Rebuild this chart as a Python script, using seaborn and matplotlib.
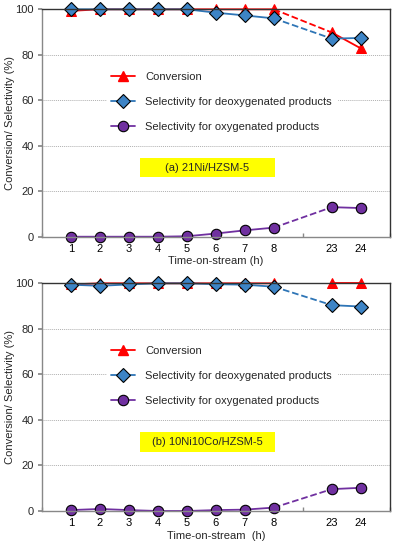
import numpy as np
import matplotlib
matplotlib.use("Agg")
import matplotlib.pyplot as plt
import seaborn as sns
from matplotlib.lines import Line2D
from matplotlib.patches import Rectangle

# time labels (h) and their positions on the category axis (gap between 8 and 23)
hours = ["1", "2", "3", "4", "5", "6", "7", "8", "23", "24"]
pos = [1, 2, 3, 4, 5, 6, 7, 8, 10, 11]

# panel (a) 21Ni/HZSM-5
conv_a = [99.3, 100, 100, 100, 100, 100, 100, 100, 89.8, 82.8]
deox_a = [100, 100, 100, 100, 100, 98.5, 97.3, 96.0, 87.1, 87.4]
oxy_a = [0, 0, 0, 0, 0.2, 1.4, 2.8, 4.0, 13.0, 12.6]

# panel (b) 10Ni10Co/HZSM-5
conv_b = [99.5, 100, 100, 100, 100, 100, 100, 100, 100, 100]
deox_b = [99.4, 98.9, 99.5, 100, 100, 99.6, 99.4, 98.5, 90.4, 89.8]
oxy_b = [0.4, 0.9, 0.4, 0, 0, 0.4, 0.6, 1.5, 9.6, 10.2]

sns.set_theme(style="white")
plt.rcParams['font.family'] = ['Liberation Sans', 'DejaVu Sans']

RED = "#ff0000"
BLUE_LINE = "#2e75b6"
BLUE_FILL = "#3d84c6"
PURPLE = "#7030a0"

styles = [
    ("Conversion", RED, dict(marker="^", markersize=7.5, markerfacecolor=RED, markeredgecolor=RED)),
    ("Selectivity for deoxygenated products", BLUE_LINE,
     dict(marker="D", markersize=7, markerfacecolor=BLUE_FILL, markeredgecolor="black", markeredgewidth=0.8)),
    ("Selectivity for oxygenated products", PURPLE,
     dict(marker="o", markersize=7.5, markerfacecolor=PURPLE, markeredgecolor="black", markeredgewidth=0.8)),
]


def draw_panel(ax, series, tag, xlabel):
    for (label, color, mk), vals in zip(styles, series):
        # solid part 1-8 h and 23-24 h, dashed bridge 8 -> 23 h
        sns.lineplot(x=pos[8:], y=vals[8:], ax=ax, color=color, lw=1.3, clip_on=False, **mk)
        sns.lineplot(x=pos[7:9], y=vals[7:9], ax=ax, color=color, lw=1.3, dashes=(4, 2.5),
                     linestyle="--", zorder=1)
        sns.lineplot(x=pos[:8], y=vals[:8], ax=ax, color=color, lw=1.3, clip_on=False, **mk)

    ax.set_xlim(0, 12)
    ax.set_ylim(0, 100)
    ax.set_yticks([0, 20, 40, 60, 80, 100])
    ax.set_xticks(pos)
    ax.set_xticklabels(hours)
    ax.set_xticks(range(0, 13), minor=True)
    ax.tick_params(axis="x", which="major", length=0, labelsize=8, pad=5, colors="black")
    ax.tick_params(axis="x", which="minor", length=3, color="#888888", direction="in", bottom=True)
    ax.tick_params(axis="y", length=3, direction="out", color="#888888", labelsize=8, left=True, pad=3)
    for yv in [20, 40, 60, 80]:
        ax.axhline(yv, color="#b0b0b0", lw=0.7, ls=(0, (1, 1)), zorder=0)
    for s in ["left", "bottom"]:
        ax.spines[s].set_color("#888888")
        ax.spines[s].set_linewidth(1.0)
    for s in ["top", "right"]:
        ax.spines[s].set_color("#333333")
        ax.spines[s].set_linewidth(1.0)
    ax.set_ylabel("Conversion/ Selectivity (%)", fontsize=8, labelpad=0)
    ax.set_xlabel(xlabel, fontsize=8, labelpad=2)

    handles = [Line2D([0], [0], color=c, lw=1.3, **mk) for _, c, mk in styles]
    leg = ax.legend(handles, [s[0] for s in styles], loc="upper left",
                    bbox_to_anchor=(0.17, 0.77), frameon=True, fontsize=8,
                    labelspacing=1.35, handlelength=2.2, handletextpad=0.9,
                    borderpad=0.4, fancybox=False)
    leg.get_frame().set_edgecolor("white")
    leg.get_frame().set_facecolor("white")
    leg.get_frame().set_alpha(1)

    ax.add_patch(Rectangle((3.37, 26.1), 4.68, 8.4, fc="#ffff00", ec="none", zorder=2))
    ax.text(5.71, 30.3, tag, fontsize=8, ha="center", va="center", zorder=3)


fig = plt.figure(figsize=(3.95, 5.5), dpi=100)
ax1 = fig.add_axes([0.106, 0.5696, 0.881, 0.4135])
ax2 = fig.add_axes([0.106, 0.0709, 0.881, 0.4140])

draw_panel(ax1, [conv_a, deox_a, oxy_a], "(a) 21Ni/HZSM-5", "Time-on-stream (h)")
draw_panel(ax2, [conv_b, deox_b, oxy_b], "(b) 10Ni10Co/HZSM-5", "Time-on-stream  (h)")

fig.savefig("out.png", dpi=100)
